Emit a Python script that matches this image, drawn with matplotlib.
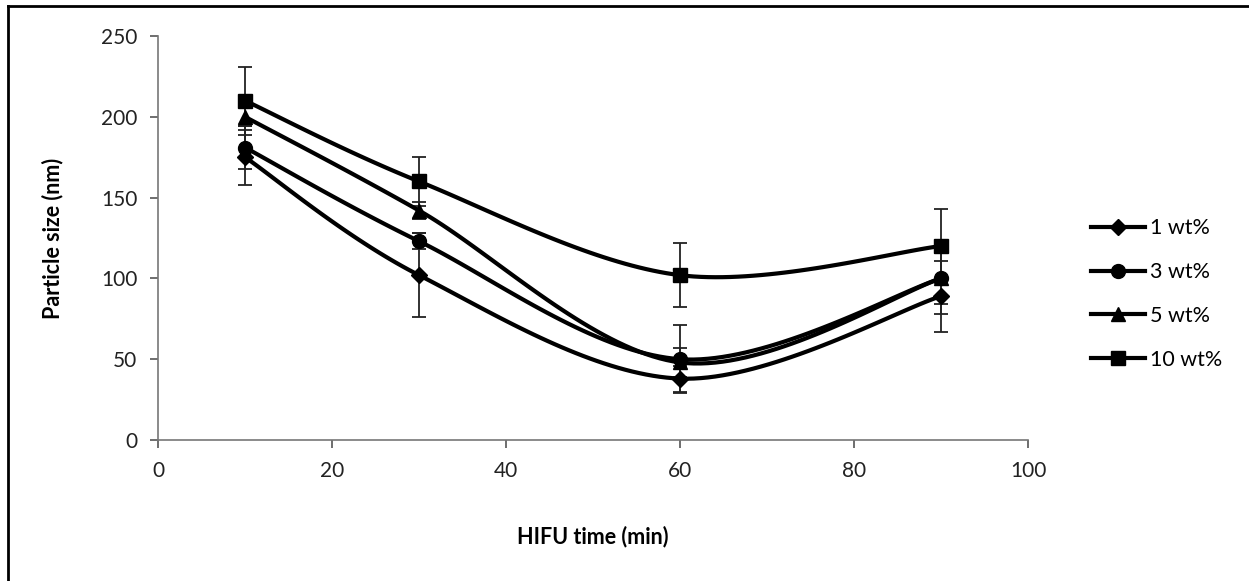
import numpy as np
import matplotlib
matplotlib.use('Agg')
from matplotlib import pyplot as plt
from matplotlib.lines import Line2D

plt.rcParams['font.family'] = ['Lato', 'DejaVu Sans']

time_min = [10, 30, 60, 90]
labels = ['1 wt%', '3 wt%', '5 wt%', '10 wt%']
markers = ['D', 'o', '^', 's']
size_1 = [175, 102, 38, 89]
size_3 = [181, 123, 50, 100]
size_5 = [200, 142, 48, 100]
size_10 = [210, 160, 102, 120]
err_1 = [17, 26, 8, 22]
err_3 = [13, 5, 21, 16]
err_5 = [6, 5, 9, 22]
err_10 = [21, 15, 20, 23]
sizes = [size_1, size_3, size_5, size_10]
errs = [err_1, err_3, err_5, err_10]

W, H = 1249, 581
fig = plt.figure(figsize=(W / 100, H / 100), dpi=100)
ax = fig.add_axes([158 / W, 1 - 440 / H, 870 / W, 404 / H])
ax.set_xlim(0, 100)
ax.set_ylim(0, 250)


def smooth(xs, ys, n=40):
    # excel-style smooth line: bezier through points, done in screen units
    px = np.asarray(xs, float) / 100 * 870
    py = np.asarray(ys, float) / 250 * 404
    P = np.column_stack([px, py])
    out = []
    for i in range(len(P) - 1):
        p0 = P[i - 1] if i > 0 else P[i]
        p3 = P[i + 2] if i + 2 < len(P) else P[i + 1]
        c1 = P[i] + (P[i + 1] - p0) / 6
        c2 = P[i + 1] - (p3 - P[i]) / 6
        t = np.linspace(0, 1, n)[:, None]
        seg = ((1 - t) ** 3 * P[i] + 3 * (1 - t) ** 2 * t * c1
               + 3 * (1 - t) * t ** 2 * c2 + t ** 3 * P[i + 1])
        out.append(seg)
    seg = np.vstack(out)
    return seg[:, 0] / 870 * 100, seg[:, 1] / 404 * 250


for ys, e, m in zip(sizes, errs, markers):
    ax.errorbar(time_min, ys, yerr=e, fmt='none', ecolor='#222222',
                elinewidth=1.3, capsize=5, capthick=1.3, zorder=2)
for ys, m in zip(sizes, markers):
    sx, sy = smooth(time_min, ys)
    ax.plot(sx, sy, color='black', lw=3, solid_capstyle='round', zorder=3)
    ms = 8 if m == 'D' else 10
    ax.plot(time_min, ys, ls='none', marker=m, ms=ms, color='black', zorder=4)

for s in ['top', 'right']:
    ax.spines[s].set_visible(False)
for s in ['left', 'bottom']:
    ax.spines[s].set_color('#777777')
    ax.spines[s].set_linewidth(1.2)
ax.set_xticks(range(0, 101, 20))
ax.set_yticks(range(0, 251, 50))
ax.tick_params(direction='out', length=6, width=1.2, color='#555555',
               labelsize=15, labelcolor='#222222', pad=9)
ax.set_xlabel('HIFU time (min)', fontsize=15.5, fontweight='bold', labelpad=32)
ax.set_ylabel('Particle size (nm)', fontsize=15.5, fontweight='bold', labelpad=27)

handles = [Line2D([], [], color='black', lw=3, marker=m,
                  ms=(8 if m == 'D' else 10)) for m in markers]
fig.legend(handles, labels, loc='center left', bbox_to_anchor=(1072 / W, 1 - 294 / H),
           frameon=False, fontsize=15.5, handlelength=2.5, handletextpad=0.2,
           labelspacing=1.1)

# outer frame
fig.add_artist(Line2D([8 / W, 8 / W], [0, 1 - 6 / H], color='black', lw=2,
                      transform=fig.transFigure))
fig.add_artist(Line2D([8 / W, 1], [1 - 6 / H, 1 - 6 / H], color='black', lw=2,
                      transform=fig.transFigure))

fig.savefig('out.png', dpi=100)
